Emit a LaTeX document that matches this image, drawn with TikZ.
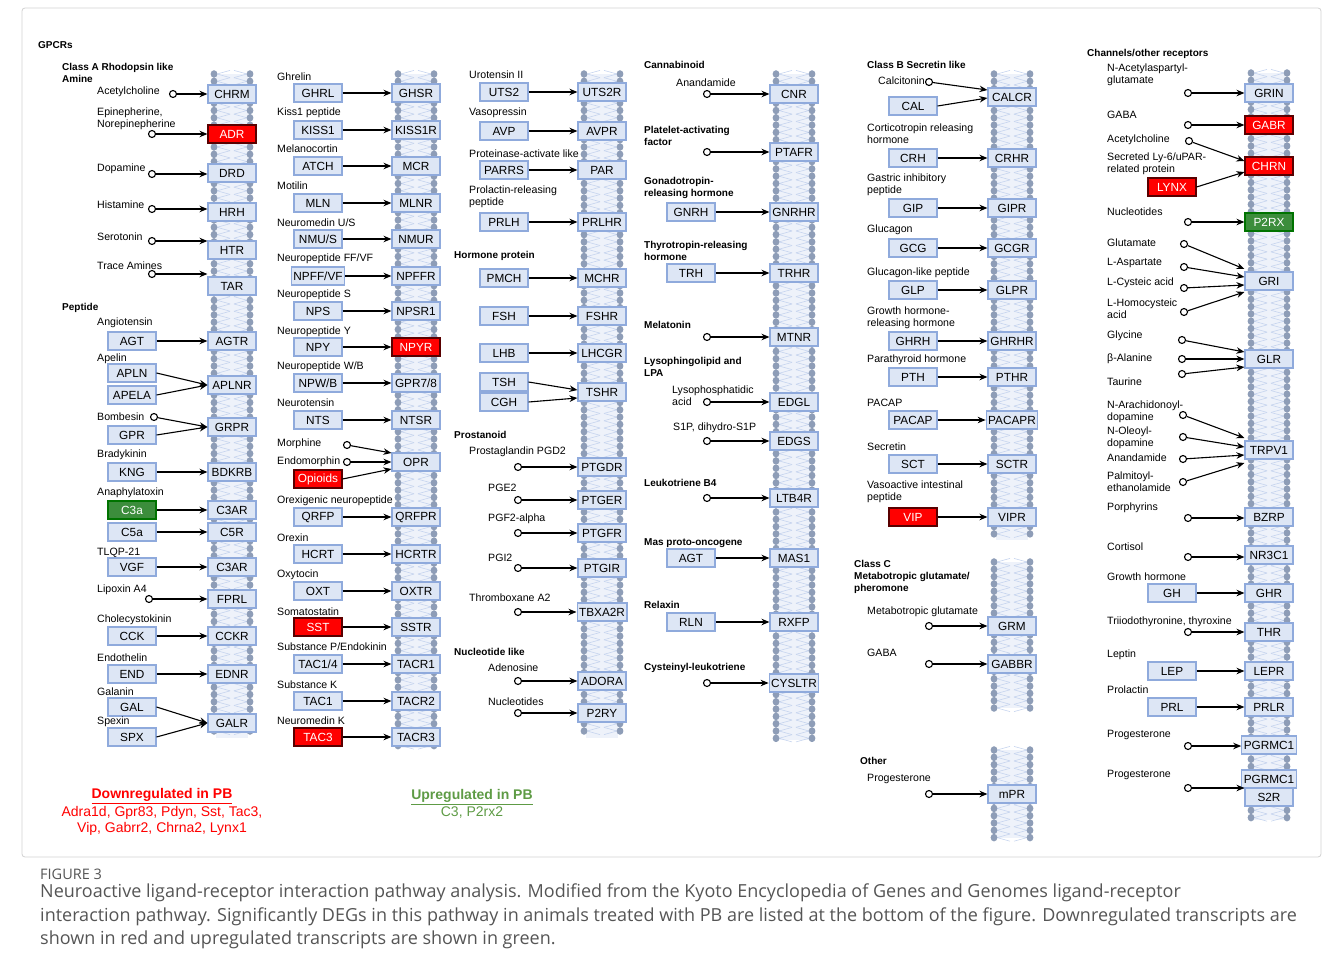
\documentclass[tikz,border=0pt]{standalone}
\usepackage{fontspec}
\setmainfont{Liberation Sans}
\newfontfamily\capfont{Open Sans}
\usetikzlibrary{arrows.meta,positioning,calc}
\definecolor{recfill}{HTML}{DDE6F5}
\definecolor{recline}{HTML}{8FAADC}
\definecolor{headcol}{HTML}{8E9DB7}
\definecolor{tailcol}{HTML}{C6D4EE}
\definecolor{bandcol}{HTML}{EEF2FA}
\definecolor{downred}{HTML}{FF0000}
\definecolor{upgreen}{HTML}{3C8D3C}
\definecolor{uptext}{HTML}{5E9B45}
\definecolor{capgray}{HTML}{555555}
\tikzset{
  box/.style={draw=recline,fill=recfill,line width=1.1pt,minimum width=48pt,minimum height=18pt,
    inner xsep=2pt,inner ysep=0pt,font=\fontsize{11.8}{13}\selectfont},
  plainbox/.style={},
  downreg/.style={fill=downred,draw=black!65!red,text=white},
  upreg/.style={fill=upgreen,draw=black!55!green,text=white},
  lbl/.style={anchor=west,align=left,inner sep=0pt,font=\fontsize{10.6}{12}\selectfont},
  hdr/.style={anchor=west,align=left,inner sep=0pt,font=\bfseries\fontsize{10}{12}\selectfont},
  src/.style={circle,draw,fill=white,line width=1.1pt,minimum size=7pt,inner sep=0pt},
  arr/.style={->,line width=1.1pt},
  captext/.style={anchor=west,inner sep=0pt,text=capgray,font=\capfont\fontsize{18}{20}\selectfont},
}
% lipid bilayer: centre x, top y, bottom y
\newcommand{\bilayer}[3]{%
  \fill[bandcol] (#1-16,#2) rectangle (#1+16,#3);
  \pgfmathtruncatemacro{\nh}{(#3-#2)/7.3}
  \foreach \k in {0,...,\nh}{
    \pgfmathsetmacro{\yy}{#2+\k*7.3}
    \draw[tailcol,line width=0.6pt] (#1-15,\yy) -- (#1-2,\yy+3.6) (#1+15,\yy) -- (#1+2,\yy+3.6)
      (#1-15,\yy) -- (#1-2,\yy-3.6) (#1+15,\yy) -- (#1+2,\yy-3.6);
    \fill[headcol] (#1-18,\yy) ellipse (3.4 and 3.8) (#1+18,\yy) ellipse (3.4 and 3.8);
  }}

\begin{document}
\begin{tikzpicture}[x=1pt,y=-1pt,>={Stealth[length=8pt,width=6.5pt]}]
  \useasboundingbox (0,0) rectangle (1331,974);
  \draw[black!18,line width=0.8pt,rounded corners=3pt] (22,8) rectangle (1321,857);

  % membranes
  \bilayer{232}{74}{738}
  \bilayer{416}{74}{748}
  \bilayer{602}{74}{738}
  \bilayer{794}{74}{740}
  \bilayer{1012}{74}{540}
  \bilayer{1012}{562}{708}
  \bilayer{1012}{750}{838}
  \bilayer{1269}{73}{820}

  % column 1: amines
  \node[hdr] (gpcr) at (38,45) {GPCRs};
  \node[hdr] (clA) at (62,73) {Class A Rhodopsin like\\Amine};
  \foreach \ly/\sx/\sy/\lab/\ry/\rec/\st [count=\i] in {92/173/94/Acetylcholine/94/CHRM/plainbox,
      119/152/134/{Epinepherine,\\Norepinepherine}/134/ADR/downreg, 169/152/174/Dopamine/173/DRD/plainbox,
      205/152/209/Histamine/212/HRH/plainbox, 237/152/241/Serotonin/250/HTR/plainbox,
      266/152/274/Trace Amines/286/TAR/plainbox}{
    \node[lbl] (ta\i) at (97,\ly) {\lab};
    \node[src] (sa\i) at (\sx,\sy) {};
    \node[box,\st] (ra\i) at (232,\ry) {\rec};
    \draw[arr] (sa\i) -- (sa\i -| ra\i.west);
  }

  % column 1: peptides
  \node[hdr] (pep) at (62,308) {Peptide};
  \foreach \ly/\y/\lab/\lig/\rec/\ls [count=\i] in {323/341/Angiotensin/AGT/AGTR/plainbox,
      455/472/Bradykinin/KNG/BDKRB/plainbox, 493/510/Anaphylatoxin/C3a/C3AR/upreg,
      553/567/TLQP-21/VGF/C3AR/plainbox, 620/636/Cholecystokinin/CCK/CCKR/plainbox,
      658/674/Endothelin/END/EDNR/plainbox}{
    \node[lbl] (tp\i) at (97,\ly) {\lab};
    \node[box,\ls] (lp\i) at (132,\y) {\lig};
    \node[box] (rp\i) at (232,\y) {\rec};
    \draw[arr] (lp\i) -- (rp\i);
  }
  \node[lbl] (tApl) at (97,359) {Apelin};
  \node[box] (APLN) at (132,373) {APLN};
  \node[box] (APELA) at (132,395) {APELA};
  \node[box] (APLNR) at (232,385) {APLNR};
  \draw[arr] (APLN.east) -- (APLNR.west);
  \draw[arr] (APELA.east) -- (APLNR.west);
  \node[lbl] (tBom) at (97,417) {Bombesin};
  \node[src] (sBom) at (154,417) {};
  \node[box] (GPR) at (132,435) {GPR};
  \node[box] (GRPR) at (232,427) {GRPR};
  \draw[arr] (sBom) -- (GRPR.west);
  \draw[arr] (GPR.east) -- (GRPR.west);
  \node[box] (C5a) at (132,532) {C5a};
  \node[box] (C5R) at (232,532) {C5R};
  \draw[arr] (C5a) -- (C5R);
  \node[lbl] (tLip) at (97,590) {Lipoxin A4};
  \node[src] (sLip) at (149,599) {};
  \node[box] (FPRL) at (232,599) {FPRL};
  \draw[arr] (sLip) -- (FPRL);
  \node[lbl] (tGal) at (97,692) {Galanin};
  \node[box] (GAL) at (132,707) {GAL};
  \node[lbl] (tSpx) at (97,722) {Spexin};
  \node[box] (SPX) at (132,737) {SPX};
  \node[box] (GALR) at (232,723) {GALR};
  \draw[arr] (GAL.east) -- (GALR.west);
  \draw[arr] (SPX.east) -- (GALR.west);

  % legend
  \node[text=downred,font=\bfseries\fontsize{14}{16}\selectfont] (dn) at (162,796) {\underline{Downregulated in PB}};
  \node[text=downred,align=center,font=\fontsize{14}{15.5}\selectfont] (dnl) at (162,821)
    {Adra1d, Gpr83, Pdyn, Sst, Tac3,\\Vip, Gabrr2, Chrna2, Lynx1};
  \node[text=uptext,font=\bfseries\fontsize{14}{16}\selectfont] (up) at (472,797) {\underline{Upregulated in PB}};
  \node[text=uptext,font=\fontsize{14}{16}\selectfont] (upl) at (472,813) {C3, P2rx2};

  % column 2
  \foreach \ly/\y/\lab/\lig/\rec/\ls/\rs [count=\i] in {77/93/Ghrelin/GHRL/GHSR/plainbox/plainbox,
      113/130/Kiss1 peptide/KISS1/KISS1R/plainbox/plainbox, 149/166/Melanocortin/ATCH/MCR/plainbox/plainbox,
      186/203/Motilin/MLN/MLNR/plainbox/plainbox, 223/239/{Neuromedin U/S}/{NMU/S}/NMUR/plainbox/plainbox,
      259/276/{Neuropeptide FF/VF}/{NPFF/VF}/NPFFR/plainbox/plainbox,
      295/311/Neuropeptide S/NPS/NPSR1/plainbox/plainbox, 332/347/Neuropeptide Y/NPY/NPYR/plainbox/downreg,
      367/383/{Neuropeptide W/B}/{NPW/B}/{GPR7/8}/plainbox/plainbox, 403/420/Neurotensin/NTS/NTSR/plainbox/plainbox,
      501/517/Orexigenic neuropeptide/QRFP/QRFPR/plainbox/plainbox, 538/554/Orexin/HCRT/HCRTR/plainbox/plainbox,
      575/591/Oxytocin/OXT/OXTR/plainbox/plainbox, 612/627/Somatostatin/SST/SSTR/downreg/plainbox,
      647/664/{Substance P/Endokinin}/{TAC1/4}/TACR1/plainbox/plainbox,
      685/701/Substance K/TAC1/TACR2/plainbox/plainbox, 721/737/Neuromedin K/TAC3/TACR3/downreg/plainbox}{
    \node[lbl] (tb\i) at (277,\ly) {\lab};
    \node[box,\ls] (lb\i) at (318,\y) {\lig};
    \node[box,\rs] (rb\i) at (416,\y) {\rec};
    \draw[arr] (lb\i) -- (rb\i);
  }
  \node[lbl] (tMor) at (277,444) {Morphine};
  \node[src] (sMor) at (347,445) {};
  \node[lbl] (tEnd) at (277,462) {Endomorphin};
  \node[src] (sEnd) at (347,462) {};
  \node[box,downreg] (Opi) at (318,479) {Opioids};
  \node[box] (OPR) at (416,462) {OPR};
  \draw[arr] (sMor) -- ([yshift=9pt]OPR.west);
  \draw[arr] (sEnd) -- (OPR.west);
  \draw[arr] (Opi.east) -- ([yshift=-7pt]OPR.west);

  % column 3
  \foreach \ly/\y/\lab/\lig/\rec [count=\i] in {75/92/Urotensin II/UTS2/UTS2R, 113/131/Vasopressin/AVP/AVPR,
      154/170/Proteinase-activate like/PARRS/PAR, 197/222/Prolactin-releasing\\peptide/PRLH/PRLHR}{
    \node[lbl] (tc\i) at (469,\ly) {\lab};
    \node[box] (lc\i) at (504,\y) {\lig};
    \node[box] (rc\i) at (602,\y) {\rec};
    \draw[arr] (lc\i) -- (rc\i);
  }
  \node[hdr] (horm) at (454,256) {Hormone protein};
  \foreach \y/\lig/\rec [count=\i] in {278/PMCH/MCHR, 316/FSH/FSHR, 353/LHB/LHCGR}{
    \node[box] (lh\i) at (504,\y) {\lig};
    \node[box] (rh\i) at (602,\y) {\rec};
    \draw[arr] (lh\i) -- (rh\i);
  }
  \node[box] (TSH) at (504,382) {TSH};
  \node[box] (CGH) at (504,402) {CGH};
  \node[box] (TSHR) at (602,392) {TSHR};
  \draw[arr] (TSH.east) -- ([yshift=2pt]TSHR.west);
  \draw[arr] (CGH.east) -- ([yshift=-6pt]TSHR.west);
  \node[hdr] (pros) at (454,435) {Prostanoid};
  \node[hdr] (nucl) at (454,652) {Nucleotide like};
  \foreach \lx/\ly/\y/\lab/\rec [count=\i] in {469/452/467/Prostaglandin PGD2/PTGDR, 488/488/500/PGE2/PTGER,
      488/519/533/PGF2-alpha/PTGFR, 488/558/568/PGI2/PTGIR, 469/598/612/Thromboxane A2/TBXA2R,
      488/668/681/Adenosine/ADORA, 488/702/713/Nucleotides/P2RY}{
    \node[lbl] (tq\i) at (\lx,\ly) {\lab};
    \node[src] (sq\i) at (518,\y) {};
    \node[box] (rq\i) at (602,\y) {\rec};
    \draw[arr] (sq\i) -- (rq\i);
  }

  % column 4
  \node[hdr] (cann) at (644,65) {Cannabinoid};
  \node[hdr] (paf) at (644,136) {Platelet-activating\\factor};
  \node[hdr] (gnrh) at (644,188) {Gonadotropin-\\releasing hormone};
  \node[hdr] (trh) at (644,251) {Thyrotropin-releasing\\hormone};
  \node[hdr] (mel) at (644,325) {Melatonin};
  \node[hdr] (lyso) at (644,367) {Lysophingolipid and\\LPA};
  \node[hdr] (ltb) at (644,483) {Leukotriene B4};
  \node[hdr] (mas) at (644,543) {Mas proto-oncogene};
  \node[hdr] (rlx) at (644,605) {Relaxin};
  \node[hdr] (cys) at (644,668) {Cysteinyl-leukotriene};
  \node[lbl] (tAna) at (676,83) {Anandamide};
  \node[lbl] (tLpa) at (672,396) {Lysophosphatidic\\acid};
  \node[lbl] (tS1p) at (673,428) {S1P, dihydro-S1P};
  \foreach \y/\rec [count=\i] in {94/CNR, 152/PTAFR, 337/MTNR, 402/EDGL, 441/EDGS, 498/LTB4R, 683/CYSLTR}{
    \node[src] (sd\i) at (707,\y) {};
    \node[box] (rd\i) at (794,\y) {\rec};
    \draw[arr] (sd\i) -- (rd\i);
  }
  \foreach \y/\lig/\rec [count=\i] in {212/GNRH/GNRHR, 273/TRH/TRHR, 558/AGT/MAS1, 622/RLN/RXFP}{
    \node[box] (le\i) at (691,\y) {\lig};
    \node[box] (re\i) at (794,\y) {\rec};
    \draw[arr] (le\i) -- (re\i);
  }

  % column 5
  \node[hdr] (clB) at (867,65) {Class B Secretin like};
  \node[lbl] (tCal) at (878,81) {Calcitonin};
  \node[src] (sCal) at (929,82) {};
  \node[box] (CAL) at (913,106) {CAL};
  \node[box] (CALCR) at (1012,97) {CALCR};
  \draw[arr] (sCal) -- ([yshift=7pt]CALCR.west);
  \draw[arr] (CAL.east) -- ([yshift=-1pt]CALCR.west);
  \foreach \ly/\y/\lab/\lig/\rec/\ls [count=\i] in {134/158/Corticotropin releasing\\hormone/CRH/CRHR/plainbox,
      185/208/Gastric inhibitory\\peptide/GIP/GIPR/plainbox, 230/248/Glucagon/GCG/GCGR/plainbox,
      273/290/Glucagon-like peptide/GLP/GLPR/plainbox, 318/341/Growth hormone-\\releasing hormone/GHRH/GHRHR/plainbox,
      360/377/Parathyroid hormone/PTH/PTHR/plainbox, 403/420/PACAP/PACAP/PACAPR/plainbox,
      447/464/Secretin/SCT/SCTR/plainbox, 492/517/Vasoactive intestinal\\peptide/VIP/VIPR/downreg}{
    \node[lbl] (tf\i) at (867,\ly) {\lab};
    \node[box,\ls] (lf\i) at (913,\y) {\lig};
    \node[box] (rf\i) at (1012,\y) {\rec};
    \draw[arr] (lf\i) -- (rf\i);
  }
  \node[hdr] (clC) at (854,577) {Class C\\Metabotropic glutamate/\\pheromone};
  \node[hdr] (oth) at (860,761) {Other};
  \foreach \ly/\y/\lab/\rec [count=\i] in {612/626/Metabotropic glutamate/GRM, 653/664/GABA/GABBR, 779/794/Progesterone/mPR}{
    \node[lbl] (tk\i) at (867,\ly) {\lab};
    \node[src] (sk\i) at (929,\y) {};
    \node[box] (rk\i) at (1012,\y) {\rec};
    \draw[arr] (sk\i) -- (rk\i);
  }

  % column 6
  \node[hdr] (chan) at (1087,54) {Channels/other receptors};
  \foreach \ly/\sy/\lab/\y/\rec/\rs [count=\i] in {75/93/{N-Acetylaspartyl-\\glutamate}/93/GRIN/plainbox,
      115/125/GABA/125/GABR/downreg, 212/222/Nucleotides/222/P2RX/upreg, 508/518/Porphyrins/517/BZRP/plainbox,
      547/557/Cortisol/555/NR3C1/plainbox, 622/632/{Triiodothyronine, thyroxine}/632/THR/plainbox,
      735/746/Progesterone/745/PGRMC1/plainbox}{
    \node[lbl] (tm\i) at (1107,\ly) {\lab};
    \node[src] (sm\i) at (1188,\sy) {};
    \node[box,\rs] (rm\i) at (1269,\y) {\rec};
    \draw[arr] (sm\i) -- (sm\i -| rm\i.west);
  }
  \node[lbl] (tAcc) at (1107,140) {Acetylcholine};
  \node[src] (sAcc) at (1189,141) {};
  \node[lbl] (tLy) at (1107,164) {Secreted Ly-6/uPAR-\\related protein};
  \node[box,downreg] (LYNX) at (1172,187) {LYNX};
  \node[box,downreg] (CHRN) at (1269,166) {CHRN};
  \draw[arr] (sAcc) -- ([yshift=5pt]CHRN.west);
  \draw[arr] (LYNX.east) -- ([yshift=-6pt]CHRN.west);
  \node[box] (GRI) at (1269,281) {GRI};
  \foreach \ly/\sy/\sh/\lab [count=\i] in {243/244/12/Glutamate, 263/267/4/L-Aspartate,
      283/288/-4/L-Cysteic acid, 309/312/-11/L-Homocysteic\\acid}{
    \node[lbl] (tg\i) at (1107,\ly) {\lab};
    \node[src] (sg\i) at (1184,\sy) {};
    \draw[arr] (sg\i) -- ([yshift=\sh pt]GRI.west);
  }
  \node[box] (GLR) at (1269,359) {GLR};
  \foreach \ly/\sy/\sh/\lab [count=\i] in {336/340/7/Glycine, 359/359/0/β-Alanine, 382/374/-8/Taurine}{
    \node[lbl] (tl\i) at (1107,\ly) {\lab};
    \node[src] (sl\i) at (1182,\sy) {};
    \draw[arr] (sl\i) -- ([yshift=\sh pt]GLR.west);
  }
  \node[box] (TRPV) at (1269,450) {TRPV1};
  \foreach \ly/\sy/\sh/\lab [count=\i] in {412/415/12/{N-Arachidonoyl-\\dopamine}, 438/437/3/{N-Oleoyl-\\dopamine},
      458/459/-5/Anandamide, 482/482/-13/{Palmitoyl-\\ethanolamide}}{
    \node[lbl] (tv\i) at (1107,\ly) {\lab};
    \node[src] (sv\i) at (1183,\sy) {};
    \draw[arr] (sv\i) -- ([yshift=\sh pt]TRPV.west);
  }
  \foreach \ly/\y/\lab/\lig/\rec [count=\i] in {577/593/Growth hormone/GH/GHR, 655/671/Leptin/LEP/LEPR,
      690/707/Prolactin/PRL/PRLR}{
    \node[lbl] (tn\i) at (1107,\ly) {\lab};
    \node[box] (ln\i) at (1172,\y) {\lig};
    \node[box] (rn\i) at (1269,\y) {\rec};
    \draw[arr] (ln\i) -- (rn\i);
  }
  \node[lbl] (tPro) at (1107,775) {Progesterone};
  \node[src] (sPro) at (1188,788) {};
  \node[box] (PGR) at (1269,779) {PGRMC1};
  \node[box] (S2R) at (1269,797) {S2R};
  \draw[arr] (sPro) -- (sPro -| S2R.west);

  % caption
  \node[captext,font=\capfont\fontsize{14.5}{16}\selectfont] (fig) at (40,874) {FIGURE 3};
  \node[captext] (cap1) at (40,893)
    {Neuroactive ligand-receptor interaction pathway analysis. Modified from the Kyoto Encyclopedia of Genes and Genomes ligand-receptor};
  \node[captext] (cap2) at (40,917)
    {interaction pathway. Significantly DEGs in this pathway in animals treated with PB are listed at the bottom of the figure. Downregulated transcripts are};
  \node[captext] (cap3) at (40,940)
    {shown in red and upregulated transcripts are shown in green.};
\end{tikzpicture}
\end{document}
